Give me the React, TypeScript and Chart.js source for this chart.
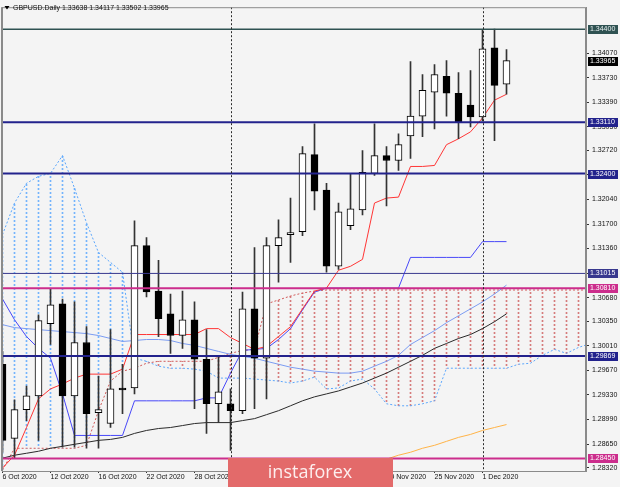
import React, { useEffect, useRef } from 'react';
import { Chart, registerables } from 'chart.js';

Chart.register(...registerables);

// ---------------- data ----------------
const symbolName = 'GBPUSD.Daily';
const dateTickBars = [0, 4, 8, 12, 16, 20, 24, 28, 32, 36, 40];
const dateTickLabels = ['6 Oct 2020', '12 Oct 2020', '16 Oct 2020', '22 Oct 2020', '28 Oct 2020', '3 Nov 2020', '9 Nov 2020', '13 Nov 2020', '19 Nov 2020', '25 Nov 2020', '1 Dec 2020'];
const periodSeparatorBars = [19, 40];

const openPrices = [1.29756, 1.28728, 1.29126, 1.29318, 1.30318, 1.30593, 1.29318, 1.30058, 1.29084, 1.28934, 1.29427, 1.29427, 1.31401, 1.30771, 1.30455, 1.30154, 1.30373, 1.29825, 1.29208, 1.29208, 1.29112, 1.30524, 1.29839, 1.31401, 1.31552, 1.31593, 1.32663, 1.32169, 1.31114, 1.31676, 1.31895, 1.32402, 1.32649, 1.32581, 1.32923, 1.33197, 1.33527, 1.33746, 1.33513, 1.33348, 1.33184, 1.34143, 1.33638];
const highPrices = [1.29934, 1.29263, 1.29455, 1.30442, 1.30798, 1.30661, 1.30620, 1.30277, 1.29592, 1.30236, 1.29756, 1.31744, 1.31511, 1.31196, 1.30730, 1.30771, 1.30620, 1.30236, 1.29866, 1.29414, 1.30757, 1.31374, 1.31511, 1.31758, 1.32060, 1.32772, 1.33088, 1.32265, 1.31991, 1.32402, 1.32718, 1.33088, 1.32772, 1.32951, 1.33952, 1.33773, 1.33910, 1.33965, 1.33801, 1.33828, 1.34390, 1.34404, 1.34117];
const lowPrices = [1.28536, 1.28454, 1.28975, 1.28701, 1.30030, 1.28605, 1.28605, 1.28591, 1.28591, 1.28879, 1.29071, 1.29345, 1.30689, 1.30140, 1.29907, 1.29976, 1.29139, 1.28797, 1.28947, 1.28563, 1.29071, 1.29139, 1.29276, 1.30894, 1.31168, 1.31539, 1.31895, 1.31031, 1.31072, 1.31621, 1.31826, 1.32375, 1.31950, 1.32443, 1.32608, 1.32910, 1.33019, 1.33197, 1.32882, 1.33047, 1.33129, 1.32855, 1.33502];
const closePrices = [1.28701, 1.29126, 1.29318, 1.30360, 1.30579, 1.29318, 1.30058, 1.29071, 1.29126, 1.29414, 1.29400, 1.31401, 1.30757, 1.30387, 1.30154, 1.30373, 1.29825, 1.29208, 1.29372, 1.29112, 1.30524, 1.29839, 1.31401, 1.31511, 1.31580, 1.32676, 1.32156, 1.31114, 1.31868, 1.31909, 1.32416, 1.32649, 1.32581, 1.32800, 1.33197, 1.33554, 1.33773, 1.33513, 1.33115, 1.33184, 1.34130, 1.33622, 1.33965];

const tenkanSen = [1.28317, 1.28495, 1.28879, 1.29276, 1.29414, 1.29482, 1.29564, 1.29619, 1.29619, 1.29619, 1.29688, 1.30168, 1.30168, 1.30168, 1.30168, 1.30168, 1.30168, 1.30250, 1.30250, 1.30126, 1.30044, 1.29962, 1.30003, 1.30140, 1.30277, 1.30524, 1.30771, 1.30812, 1.31059, 1.31114, 1.31210, 1.31991, 1.32060, 1.32073, 1.32498, 1.32498, 1.32512, 1.32800, 1.32882, 1.32978, 1.33170, 1.33417, 1.33499];
const kijunSen = [1.30661, 1.30373, 1.30140, 1.29976, 1.29839, 1.29345, 1.28769, 1.28769, 1.28769, 1.28769, 1.28769, 1.29249, 1.29249, 1.29249, 1.29249, 1.29249, 1.29249, 1.29290, 1.29290, 1.29633, 1.29948, 1.29962, 1.29976, 1.30099, 1.30250, 1.30510, 1.30757, 1.30812, 1.30812, 1.30812, 1.30812, 1.30812, 1.30812, 1.30812, 1.31237, 1.31237, 1.31237, 1.31237, 1.31237, 1.31237, 1.31456, 1.31456, 1.31456];
const maFast = [1.30305, 1.30264, 1.30250, 1.30236, 1.30222, 1.30209, 1.30195, 1.30181, 1.30154, 1.30113, 1.30072, 1.30085, 1.30099, 1.30099, 1.30085, 1.30044, 1.30017, 1.29976, 1.29934, 1.29893, 1.29866, 1.29839, 1.29797, 1.29756, 1.29715, 1.29688, 1.29660, 1.29647, 1.29633, 1.29633, 1.29660, 1.29729, 1.29797, 1.29880, 1.30030, 1.30126, 1.30222, 1.30332, 1.30428, 1.30524, 1.30620, 1.30730, 1.30853];
const maMid = [1.28454, 1.28495, 1.28522, 1.28550, 1.28591, 1.28618, 1.28646, 1.28673, 1.28701, 1.28714, 1.28742, 1.28797, 1.28838, 1.28865, 1.28879, 1.28906, 1.28934, 1.28947, 1.28947, 1.28947, 1.28975, 1.29002, 1.29057, 1.29112, 1.29180, 1.29249, 1.29304, 1.29345, 1.29386, 1.29441, 1.29496, 1.29564, 1.29633, 1.29715, 1.29797, 1.29880, 1.29976, 1.30044, 1.30113, 1.30168, 1.30250, 1.30346, 1.30455];
const maSlowFirstBar = 27;
const maSlow = [1.28193, 1.28248, 1.28289, 1.28344, 1.28399, 1.28440, 1.28495, 1.28536, 1.28591, 1.28632, 1.28687, 1.28742, 1.28783, 1.28838, 1.28879, 1.28920];

const senkouSpanA = [1.28289, 1.28591, 1.28591, 1.28591, 1.28591, 1.28591, 1.28591, 1.28632, 1.29112, 1.29523, 1.29660, 1.29701, 1.29770, 1.29797, 1.29797, 1.29797, 1.29797, 1.29797, 1.29852, 1.29907, 1.29948, 1.29962, 1.30593, 1.30647, 1.30702, 1.30743, 1.30771, 1.30785, 1.30785, 1.30785, 1.30785, 1.30785, 1.30785, 1.30785, 1.30785, 1.30785, 1.30785, 1.30785, 1.30785, 1.30785, 1.30785, 1.30785, 1.30785, 1.30785, 1.30785, 1.30785, 1.30785, 1.30785, 1.30785, 1.30785];
const senkouSpanB = [1.31552, 1.31991, 1.32265, 1.32361, 1.32402, 1.32649, 1.32197, 1.31717, 1.31305, 1.31168, 1.31031, 1.29839, 1.29797, 1.29729, 1.29701, 1.29701, 1.29688, 1.29660, 1.29564, 1.29564, 1.29564, 1.29551, 1.29537, 1.29523, 1.29496, 1.29523, 1.29578, 1.29414, 1.29427, 1.29523, 1.29551, 1.29414, 1.29208, 1.29180, 1.29180, 1.29208, 1.29249, 1.29701, 1.29701, 1.29701, 1.29701, 1.29701, 1.29701, 1.29756, 1.29770, 1.29880, 1.29962, 1.29907, 1.29989, 1.30044];

const levelPrices = [1.344, 1.3311, 1.324, 1.31015, 1.3081, 1.29869, 1.2845];
const priceTicks = [1.3407, 1.3373, 1.3339, 1.3305, 1.3272, 1.3238, 1.3204, 1.317, 1.3136, 1.3102, 1.3068, 1.3035, 1.3001, 1.2967, 1.2933, 1.2899, 1.2865, 1.2832];

const yMin = 1.28276;
const yMax = 1.34706;
const xMin = -0.041667;
const xMax = 48.625;

// ---------------- styles ----------------
const BG = '#f4f4f4';
const FONT = '"Liberation Sans", Arial, sans-serif';
const levelStyles = [
  { color: '#2f5252', width: 1.5, text: '#e8f0f0' },
  { color: '#22228c', width: 2, text: '#ffffff' },
  { color: '#22228c', width: 2, text: '#ffffff' },
  { color: '#38388e', width: 1, text: '#ffffff' },
  { color: '#cc2d8c', width: 2, text: '#ffffff' },
  { color: '#22228c', width: 2, text: '#ffffff' },
  { color: '#cc2d8c', width: 2, text: '#ffffff' },
];

export default function App() {
  const ref = useRef<HTMLCanvasElement | null>(null);

  useEffect(() => {
    document.body.style.margin = '0';
    document.body.style.background = BG;
    const canvas = ref.current!;
    const ctx = canvas.getContext('2d')!;

    const makePattern = (color: string) => {
      const c = document.createElement('canvas');
      c.width = 1;
      c.height = 4;
      const g = c.getContext('2d')!;
      g.fillStyle = color;
      g.fillRect(0, 0, 1, 2);
      return ctx.createPattern(c, 'repeat');
    };
    const bluePattern = makePattern('#74b4fc');
    const redPattern = makePattern('#d67c7c');

    const series = (arr: number[], start = 0) => arr.map((v, i) => ({ x: i + start, y: v }));
    const lineDs = (data: any[], color: string, order: number, dash: number[] = [], width = 1) => ({
      type: 'line' as const,
      data,
      borderColor: color,
      borderWidth: width,
      borderDash: dash,
      pointRadius: 0,
      tension: 0,
      fill: false,
      order,
    });

    const bars = openPrices.map((_, i) => i);

    const datasets: any[] = [];
    levelPrices.forEach((p, k) => {
      datasets.push(lineDs([{ x: xMin, y: p }, { x: xMax, y: p }], levelStyles[k].color, 0, [], levelStyles[k].width));
    });
    datasets.push({
      type: 'bar',
      data: bars.map((i) => ({ x: i, y: [openPrices[i], closePrices[i]] })),
      backgroundColor: bars.map((i) => (closePrices[i] >= openPrices[i] ? '#ffffff' : '#000000')),
      borderColor: '#000000',
      borderWidth: 1,
      borderSkipped: false,
      barThickness: 7,
      minBarLength: 1,
      grouped: false,
      order: 1,
    });
    datasets.push({
      type: 'bar',
      data: bars.map((i) => ({ x: i, y: [lowPrices[i], highPrices[i]] })),
      backgroundColor: '#333333',
      borderWidth: 0,
      barThickness: 1,
      grouped: false,
      order: 2,
    });
    datasets.push(lineDs(series(tenkanSen), '#ff3535', 3));
    datasets.push(lineDs(series(kijunSen), '#4848f8', 4));
    datasets.push(lineDs(series(maFast), '#7b9cf2', 5));
    datasets.push(lineDs(series(maMid), '#2a2a2a', 6));
    datasets.push(lineDs(series(maSlow, maSlowFirstBar), '#ffb347', 7));
    datasets.push(lineDs(series(senkouSpanA), '#d25a5a', 8, [2, 2]));
    datasets.push(lineDs(series(senkouSpanB), '#5aa6fc', 9, [2, 2]));
    datasets.push({
      type: 'bar',
      data: senkouSpanA.map((a, i) => ({ x: i, y: [a, senkouSpanB[i]] })),
      backgroundColor: senkouSpanA.map((a, i) => (senkouSpanB[i] > a ? bluePattern : redPattern)),
      borderWidth: 0,
      barThickness: 1,
      grouped: false,
      order: 20,
    });

    const bgPlugin = {
      id: 'bg',
      beforeDraw(chart: any) {
        const c = chart.ctx;
        c.save();
        c.fillStyle = BG;
        c.fillRect(0, 0, chart.width, chart.height);
        c.restore();
      },
    };

    const overlayPlugin = {
      id: 'overlay',
      afterDraw(chart: any) {
        const c = chart.ctx;
        const xs = chart.scales.x;
        const ys = chart.scales.y;
        const area = chart.chartArea;
        c.save();
        // period separators
        c.strokeStyle = '#2a2a2a';
        c.lineWidth = 1;
        c.setLineDash([2, 2]);
        periodSeparatorBars.forEach((b) => {
          const px = Math.round(xs.getPixelForValue(b)) + 0.5;
          c.beginPath();
          c.moveTo(px, area.top);
          c.lineTo(px, area.bottom);
          c.stroke();
        });
        c.setLineDash([]);
        // frame
        c.strokeStyle = '#8a8a8a';
        c.lineWidth = 1;
        c.strokeRect(area.left + 0.5, area.top + 0.5, area.right - area.left - 1, area.bottom - area.top);
        c.fillStyle = '#8a8a8a';
        c.fillRect(area.left - 1, area.top, 2, area.bottom - area.top);

        // price boxes on the axis
        c.font = '7px ' + FONT;
        c.textBaseline = 'middle';
        c.textAlign = 'left';
        const box = (price: number, fill: string, txt: string) => {
          const py = ys.getPixelForValue(price);
          c.fillStyle = fill;
          c.fillRect(area.right + 2, Math.round(py) - 4, 30, 9);
          c.fillStyle = txt;
          c.fillText(price.toFixed(5), area.right + 4, Math.round(py) + 0.5);
        };
        levelPrices.forEach((p, k) => box(p, levelStyles[k].color, levelStyles[k].text));
        box(closePrices[closePrices.length - 1], '#000000', '#ffffff');

        // header
        const last = openPrices.length - 1;
        c.fillStyle = '#000000';
        c.beginPath();
        c.moveTo(4.5, 6);
        c.lineTo(9.5, 6);
        c.lineTo(7, 9.5);
        c.closePath();
        c.fill();
        c.fillStyle = '#111111';
        c.fillText(
          `${symbolName} ${openPrices[last].toFixed(5)} ${highPrices[last].toFixed(5)} ${lowPrices[last].toFixed(5)} ${closePrices[last].toFixed(5)}`,
          13,
          8
        );

        // banner
        c.fillStyle = '#e36a6a';
        c.fillRect(228, 458, 165, 29);
        c.fillStyle = '#fdeeee';
        c.font = '18px "Open Sans", Lato, sans-serif';
        c.textAlign = 'center';
        c.textBaseline = 'alphabetic';
        c.fillText('instaforex', 310, 478);
        c.restore();
      },
    };

    const tickFont = { family: FONT, size: 7 };

    const chart = new Chart(canvas, {
      type: 'line',
      data: { datasets },
      options: {
        responsive: false,
        animation: false,
        events: [],
        layout: { padding: { left: 2, top: 2, right: 0, bottom: 0 }, autoPadding: false },
        plugins: { legend: { display: false }, tooltip: { enabled: false } },
        scales: {
          x: {
            type: 'linear',
            min: xMin,
            max: xMax,
            offset: false,
            afterFit: (s: any) => {
              s.height = 16;
            },
            afterBuildTicks: (s: any) => {
              s.ticks = dateTickBars.map((v) => ({ value: v }));
            },
            grid: { drawOnChartArea: false, drawTicks: true, tickLength: 2, color: '#333333', offset: false },
            border: { display: true, color: '#8a8a8a' },
            ticks: {
              autoSkip: false,
              maxRotation: 0,
              minRotation: 0,
              align: 'start',
              padding: 0,
              color: '#111111',
              font: tickFont,
              callback: (_v: any, i: number) => dateTickLabels[i] ?? '',
            },
          },
          y: {
            type: 'linear',
            position: 'right',
            min: yMin,
            max: yMax,
            afterFit: (s: any) => {
              s.width = 34;
            },
            afterBuildTicks: (s: any) => {
              s.ticks = priceTicks.map((v) => ({ value: v }));
            },
            grid: { drawOnChartArea: false, drawTicks: true, tickLength: 3, color: '#333333' },
            border: { display: true, color: '#8a8a8a' },
            ticks: {
              autoSkip: false,
              padding: 3,
              color: '#111111',
              font: tickFont,
              callback: (v: any) => Number(v).toFixed(5),
            },
          },
        },
      } as any,
      plugins: [bgPlugin, overlayPlugin],
    } as any);

    return () => chart.destroy();
  }, []);

  return <canvas ref={ref} width={620} height={487} style={{ display: 'block', width: '620px', height: '487px' }} />;
}
